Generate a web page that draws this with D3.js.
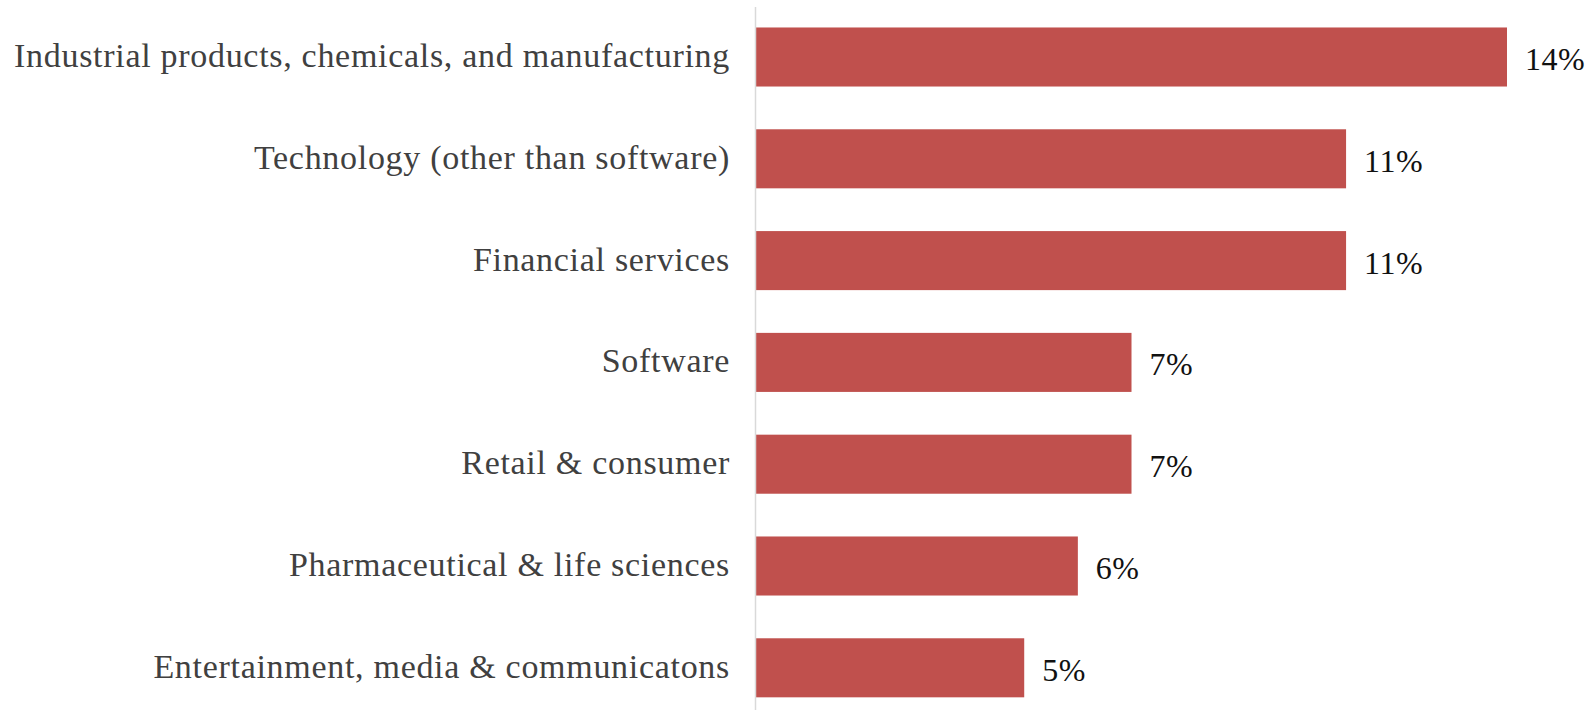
<!DOCTYPE html>
<html>
<head>
<meta charset="utf-8">
<script src="https://cdn.jsdelivr.net/npm/d3@7"></script>
<style>
  html, body { margin: 0; padding: 0; background: #fff; }
  svg { display: block; }
  .cat { font-family: Georgia, "Liberation Serif", "DejaVu Serif", serif; fill: #404040; letter-spacing: 0.7px; }
  .val { font-family: Georgia, "Liberation Serif", "DejaVu Serif", serif; fill: #111; letter-spacing: 0.5px; }
</style>
</head>
<body>
<svg id="chart" width="1596" height="710"></svg>
<script>
// Sectors, top to bottom
const categories = [
  "Industrial products, chemicals, and manufacturing",
  "Technology (other than software)",
  "Financial services",
  "Software",
  "Retail & consumer",
  "Pharmaceutical & life sciences",
  "Entertainment, media & communicatons"
];
// Share of respondents, percent
const values = [14, 11, 11, 7, 7, 6, 5];
const valueLabels = ["14%", "11%", "11%", "7%", "7%", "6%", "5%"];

const H = 710;
const x0 = 756;

const svg = d3.select("#chart");

const x = d3.scaleLinear().domain([0, 14]).range([x0, 1507]);
const y = d3.scaleBand()
  .domain(categories)
  .range([6.1, 718.7])
  .paddingInner(0.42)
  .paddingOuter(0.21);

// bars
svg.selectAll("rect.bar")
  .data(values)
  .join("rect")
  .attr("class", "bar")
  .attr("x", x(0))
  .attr("y", (d, i) => y(categories[i]))
  .attr("width", d => x(d) - x(0))
  .attr("height", y.bandwidth())
  .attr("fill", "#c0504d");

// category axis line
svg.append("line")
  .attr("x1", x(0) - 0.5).attr("x2", x(0) - 0.5)
  .attr("y1", 7).attr("y2", H)
  .attr("stroke", "#d9d9d9")
  .attr("stroke-width", 1.5);

// category labels (right edge sits just left of the axis)
svg.selectAll("text.cat")
  .data(categories)
  .join("text")
  .attr("class", "cat")
  .attr("x", 730)
  .attr("y", d => y(d) + y.bandwidth() / 2 + 10)
  .attr("text-anchor", "end")
  .attr("font-size", 34)
  .text(d => d);

// value labels at the end of each bar
svg.selectAll("text.val")
  .data(values)
  .join("text")
  .attr("class", "val")
  .attr("x", d => x(d) + 18)
  .attr("y", (d, i) => y(categories[i]) + y.bandwidth() / 2 + 13)
  .attr("font-size", 32)
  .text((d, i) => valueLabels[i]);
</script>
</body>
</html>
